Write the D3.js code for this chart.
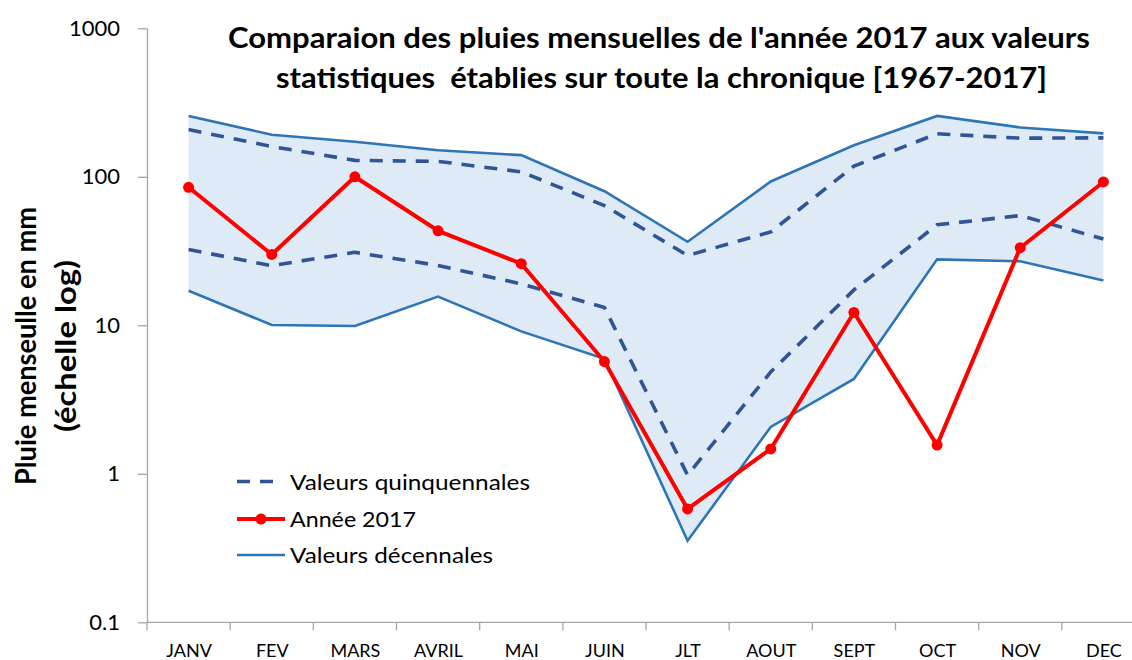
<!DOCTYPE html>
<html>
<head>
<meta charset="utf-8">
<script src="https://cdn.jsdelivr.net/npm/d3@7"></script>
<style>
  html, body { margin: 0; padding: 0; background: #fff; }
  svg { display: block; }
  text { font-family: Lato, "Open Sans", sans-serif; fill: #000; }
</style>
</head>
<body>
<svg id="chart" width="1132" height="660"></svg>
<script>
// ---- Data ----
const months = ["JANV","FEV","MARS","AVRIL","MAI","JUIN","JLT","AOUT","SEPT","OCT","NOV","DEC"];
const decUpper  = [257, 192, 172, 151, 140, 80, 36.5, 93, 163, 257, 215, 196];
const quinUpper = [208, 160, 129, 127, 108, 64, 29.5, 42.5, 118, 195, 182, 183];
const quinLower = [32.4, 25.2, 31, 25.3, 19, 13.2, 0.98, 4.85, 17.3, 47.5, 54.8, 38.1];
const decLower  = [17.1, 10.05, 9.9, 15.6, 9.1, 5.95, 0.354, 2.07, 4.35, 27.8, 27, 20];
const year2017  = [85, 30, 100, 43.3, 26, 5.7, 0.58, 1.47, 12.2, 1.56, 33.3, 92.3];
const yTicks = [0.1, 1, 10, 100, 1000];
const yTickLabels = ["0.1", "1", "10", "100", "1000"];
const titleLines = ["Comparaion des pluies mensuelles de l'année 2017 aux valeurs",
                    "statistiques  établies sur toute la chronique [1967-2017]"];
const yTitleLines = ["Pluie menseulle en mm", "(échelle log)"];
const legendLabels = ["Valeurs quinquennales", "Année 2017", "Valeurs décennales"];

// ---- Layout ----
const svg = d3.select("#chart");
const plotL = 147, plotR = 1145, plotT = 28.3, plotB = 622.3;
const colDec = "#2E75B6", colQuin = "#2F5597", colRed = "#FF0000", colFill = "#DEEAF6", colAxis = "#A6A6A6";

const x = d3.scalePoint().domain(months).range([plotL, plotR]).padding(0.5);
const xb = d3.scaleBand().domain(months).range([plotL, plotR]);
const y = d3.scaleLog().domain([0.1, 1000]).range([plotB, plotT]);

// area between decennial values
const area = d3.area()
  .x((d, i) => x(months[i]))
  .y0((d, i) => y(decLower[i]))
  .y1((d, i) => y(decUpper[i]));
svg.append("path").datum(decUpper).attr("d", area).attr("fill", colFill);

// axes
const yAxis = svg.append("g").attr("transform", `translate(${plotL},0)`)
  .call(d3.axisLeft(y).tickValues(yTicks).tickFormat((d, i) => yTickLabels[i]).tickSize(9).tickSizeOuter(0).tickPadding(18));
yAxis.select(".domain").attr("stroke", colAxis).attr("stroke-width", 1.3);
yAxis.selectAll(".tick line").attr("stroke", colAxis).attr("stroke-width", 1.3);
yAxis.selectAll(".tick text").style("font-size", "22px").style("font-family", "Lato, sans-serif").attr("fill", "#000");

const xAxisTicks = svg.append("g").attr("transform", `translate(0,${plotB})`)
  .call(d3.axisBottom(xb).tickSize(8).tickFormat(""));
xAxisTicks.select(".domain").remove();
xAxisTicks.selectAll(".tick").attr("transform", d => `translate(${xb(d)},0)`);
xAxisTicks.selectAll(".tick line").attr("stroke", colAxis).attr("stroke-width", 1.3);
svg.append("line").attr("x1", plotL).attr("x2", plotR).attr("y1", plotB).attr("y2", plotB)
  .attr("stroke", colAxis).attr("stroke-width", 1.3);

const xAxis = svg.append("g").attr("transform", `translate(0,${plotB})`)
  .call(d3.axisBottom(x).tickSize(0).tickPadding(22));
xAxis.select(".domain").remove();
xAxis.selectAll(".tick text").style("font-size", "18px").style("font-family", "Lato, sans-serif").attr("fill", "#000");

// lines
const lineOf = arr => d3.line().x((d, i) => x(months[i])).y(d => y(d))(arr);

svg.append("path").attr("d", lineOf(decUpper)).attr("fill", "none").attr("stroke", colDec).attr("stroke-width", 2.6);
svg.append("path").attr("d", lineOf(decLower)).attr("fill", "none").attr("stroke", colDec).attr("stroke-width", 2.6);
svg.append("path").attr("d", lineOf(quinUpper)).attr("fill", "none").attr("stroke", colQuin).attr("stroke-width", 3.6).attr("stroke-dasharray", "13,10");
svg.append("path").attr("d", lineOf(quinLower)).attr("fill", "none").attr("stroke", colQuin).attr("stroke-width", 3.6).attr("stroke-dasharray", "13,10");
svg.append("path").attr("d", lineOf(year2017)).attr("fill", "none").attr("stroke", colRed).attr("stroke-width", 4).attr("stroke-linejoin", "round");
svg.append("g").selectAll("circle").data(year2017).join("circle")
  .attr("cx", (d, i) => x(months[i])).attr("cy", d => y(d)).attr("r", 5.5).attr("fill", colRed);

// title
const title = svg.append("text").attr("text-anchor", "middle").style("font-weight", "bold").style("font-size", "28px").style("white-space", "pre");
title.append("tspan").attr("x", 659).attr("y", 48).attr("textLength", 862).attr("lengthAdjust", "spacingAndGlyphs").text(titleLines[0]);
title.append("tspan").attr("x", 661.5).attr("y", 88).attr("textLength", 771).attr("lengthAdjust", "spacingAndGlyphs").text(titleLines[1]);

// y title
svg.append("text").attr("transform", "translate(36,346) rotate(-90)").attr("text-anchor", "middle")
  .style("font-weight", "bold").style("font-size", "28px")
  .attr("textLength", 278).attr("lengthAdjust", "spacingAndGlyphs").text(yTitleLines[0]);
svg.append("text").attr("transform", "translate(76,346) rotate(-90)").attr("text-anchor", "middle")
  .style("font-weight", "bold").style("font-size", "28px")
  .attr("textLength", 172).attr("lengthAdjust", "spacingAndGlyphs").text(yTitleLines[1]);

// legend
const lg = svg.append("g");
const ly = [481.5, 519, 555];
const legendWidths = [240, 126, 203];
lg.append("line").attr("x1", 237).attr("x2", 277).attr("y1", ly[0]).attr("y2", ly[0])
  .attr("stroke", colQuin).attr("stroke-width", 3.6).attr("stroke-dasharray", "13,10");
lg.append("line").attr("x1", 237).attr("x2", 285).attr("y1", ly[1]).attr("y2", ly[1])
  .attr("stroke", colRed).attr("stroke-width", 4);
lg.append("circle").attr("cx", 261).attr("cy", ly[1]).attr("r", 5.5).attr("fill", colRed);
lg.append("line").attr("x1", 237).attr("x2", 285).attr("y1", ly[2]).attr("y2", ly[2])
  .attr("stroke", colDec).attr("stroke-width", 2.6);
lg.selectAll("text.lgt").data(legendLabels).join("text").attr("class", "lgt")
  .attr("x", 290).attr("y", (d, i) => ly[i] + 8).style("font-size", "22px")
  .attr("textLength", (d, i) => legendWidths[i]).attr("lengthAdjust", "spacingAndGlyphs").text(d => d);
</script>
</body>
</html>
